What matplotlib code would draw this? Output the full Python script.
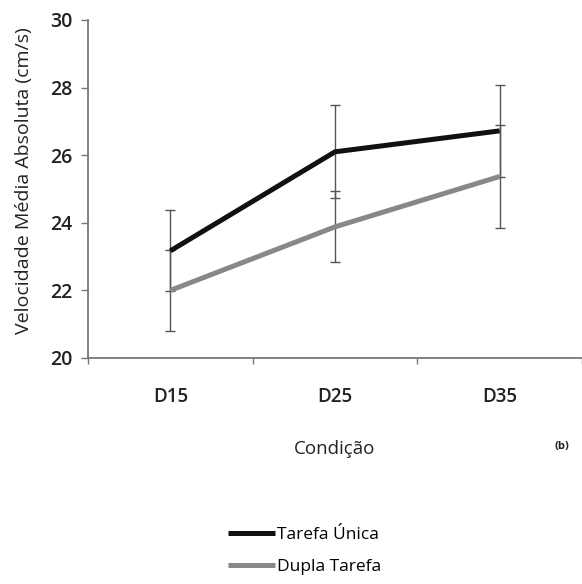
import matplotlib.pyplot as plt
import numpy as np

plt.rcParams['font.family'] = ['Open Sans', 'DejaVu Sans']

categories = ['D15', 'D25', 'D35']
unica = [23.17, 26.1, 26.72]
unica_err = [1.2, 1.38, 1.37]
dupla = [22.0, 23.88, 25.37]
dupla_err = [1.2, 1.05, 1.53]

fig = plt.figure(figsize=(5.82, 5.84), dpi=100)
ax = fig.add_axes([88 / 582, 1 - 358 / 584, 1 - 88 / 582, (358 - 20) / 584])

x = np.arange(len(categories))

# error bars first, lines on top
ax.errorbar(x, unica, yerr=unica_err, fmt='none', ecolor='#555555',
            elinewidth=1, capsize=3.5, capthick=1)
ax.errorbar(x, dupla, yerr=dupla_err, fmt='none', ecolor='#555555',
            elinewidth=1, capsize=3.5, capthick=1)
ax.plot(x, unica, color='#111111', lw=3.6, label='Tarefa Única', solid_capstyle='butt')
ax.plot(x, dupla, color='#888888', lw=3.6, label='Dupla Tarefa', solid_capstyle='butt')

ax.set_xlim(-0.5, 2.5)
ax.set_ylim(20, 30)
ax.set_yticks(np.arange(20, 31, 2))
ax.set_xticks([-0.5, 0.5, 1.5, 2.5])
ax.set_xticklabels([])
ax.set_xticks(x, minor=True)
ax.set_xticklabels(categories, minor=True, fontsize=13.5, fontweight='semibold', color='#222222')
ax.tick_params(axis='x', which='minor', length=0, pad=21)
ax.tick_params(axis='x', which='major', length=4, color='#777777', width=1)
ax.tick_params(axis='y', length=5, color='#777777', width=1, labelsize=14,
               pad=6, labelcolor='#222222')
for lbl in ax.get_yticklabels():
    lbl.set_fontweight('semibold')

for s in ['top', 'right']:
    ax.spines[s].set_visible(False)
for s in ['left', 'bottom']:
    ax.spines[s].set_color('#777777')
    ax.spines[s].set_linewidth(1.3)

ax.set_ylabel('Velocidade Média Absoluta (cm/s)', fontsize=14, color='#222222')
ax.yaxis.set_label_coords(-0.112, 0.525)
ax.set_xlabel('Condição', fontsize=13.5, color='#222222', labelpad=24)
fig.text(562 / 582, 1 - 446 / 584, '(b)', fontsize=8, fontweight='bold',
         ha='center', va='center', color='#222222')

fig.legend(loc='center left', bbox_to_anchor=(221 / 582, 1 - 551 / 584), frameon=False,
           fontsize=12.5, handlelength=2.7, handletextpad=0.15, labelspacing=0.95,
           borderaxespad=0)

fig.savefig('out.png', dpi=100)
